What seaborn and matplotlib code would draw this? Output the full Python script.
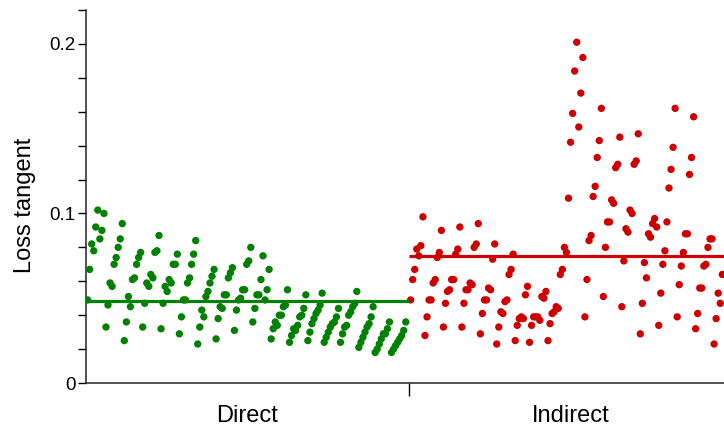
import numpy as np
import pandas as pd
import matplotlib
matplotlib.use("Agg")
import matplotlib.pyplot as plt
import seaborn as sns

categories = ["Direct", "Indirect"]

direct_values = [
    0.049, 0.067, 0.082, 0.078, 0.092, 0.102, 0.085, 0.090, 0.100, 0.033, 0.046,
    0.059, 0.057, 0.070, 0.074, 0.080, 0.085, 0.094,
    0.025, 0.036, 0.051, 0.045, 0.061, 0.062, 0.070, 0.074, 0.077,
    0.033, 0.047, 0.059, 0.057, 0.064, 0.062, 0.077, 0.078, 0.087,
    0.032, 0.047, 0.057, 0.054, 0.061, 0.059, 0.070, 0.070, 0.076,
    0.029, 0.039, 0.049, 0.049, 0.059, 0.062, 0.070, 0.076, 0.084,
    0.023, 0.033, 0.043,
    0.039, 0.051, 0.054, 0.059, 0.063, 0.067,
    0.026, 0.038, 0.045, 0.044, 0.052, 0.052, 0.062, 0.065, 0.068,
    0.031, 0.043, 0.049, 0.050, 0.055, 0.055, 0.070, 0.072, 0.080,
    0.036, 0.044, 0.052, 0.052, 0.061, 0.075, 0.049, 0.055, 0.067,
    0.026, 0.032, 0.036, 0.034, 0.040, 0.040, 0.045, 0.046, 0.055,
    0.024, 0.028, 0.032, 0.031, 0.034, 0.039, 0.040, 0.044, 0.052,
    0.025, 0.030,
    0.035, 0.038, 0.041, 0.043, 0.046, 0.053,
    0.024, 0.027, 0.030, 0.033, 0.035, 0.036, 0.039, 0.044,
    0.024, 0.029, 0.033, 0.034, 0.040, 0.042, 0.045, 0.047, 0.054,
    0.021, 0.024, 0.027, 0.030, 0.033, 0.035, 0.039, 0.045,
    0.018, 0.020, 0.023, 0.026, 0.029, 0.029, 0.032, 0.036,
    0.018, 0.020, 0.022, 0.024, 0.026, 0.028, 0.031, 0.036,
]

indirect_values = [
    0.049, 0.061, 0.067, 0.079, 0.075, 0.081, 0.098,
    0.028, 0.039, 0.049, 0.049, 0.059, 0.061, 0.074, 0.077, 0.090,
    0.033, 0.047, 0.054, 0.055, 0.061, 0.061, 0.076, 0.079, 0.092,
    0.033, 0.047, 0.055, 0.055, 0.059, 0.058, 0.080, 0.082, 0.094,
    0.029, 0.041, 0.049, 0.049, 0.056, 0.055, 0.073, 0.082,
    0.023, 0.033, 0.042, 0.041, 0.048, 0.049, 0.064, 0.067, 0.076,
    0.025, 0.034, 0.038, 0.039, 0.038, 0.052, 0.057,
    0.024, 0.034, 0.039, 0.039, 0.039, 0.037, 0.051, 0.050, 0.054,
    0.025, 0.035, 0.041, 0.042, 0.045, 0.044, 0.064, 0.067, 0.080, 0.077,
    0.109, 0.142, 0.159, 0.184, 0.201, 0.151, 0.171, 0.192,
    0.039, 0.061, 0.084, 0.087, 0.110, 0.116, 0.133, 0.143, 0.162,
    0.051, 0.080, 0.095, 0.095, 0.108, 0.106, 0.127, 0.129, 0.145,
    0.045, 0.072, 0.091, 0.089, 0.102, 0.100, 0.129, 0.131, 0.147,
    0.029, 0.047, 0.071, 0.062, 0.088, 0.086, 0.094, 0.097, 0.092,
    0.034, 0.053, 0.070, 0.078, 0.095, 0.115, 0.126, 0.139, 0.162,
    0.039, 0.058, 0.069, 0.077, 0.088, 0.088, 0.123, 0.133, 0.157,
    0.032, 0.041, 0.056, 0.056, 0.069, 0.070, 0.080, 0.085, 0.085,
    0.023, 0.038, 0.053, 0.047, 0.064,
]

colors = ["#008000", "#CC0000"]
# fraction of each category's width covered by its points (layout)
spans = [0.985, 0.965]

sns.set_style("ticks")
plt.rcParams["font.family"] = ["Liberation Sans", "DejaVu Sans"]
plt.rcParams["text.color"] = "black"
plt.rcParams["axes.labelcolor"] = "black"
plt.rcParams["xtick.color"] = "black"
plt.rcParams["ytick.color"] = "black"

rows = []
for ci, (cat, vals) in enumerate(zip(categories, [direct_values, indirect_values])):
    n = len(vals)
    for i, v in enumerate(vals):
        rows.append({"group": cat,
                     "pos": ci - 0.5 + 0.005 + spans[ci] * i / (n - 1),
                     "value": v})
df = pd.DataFrame(rows)

fig = plt.figure(figsize=(7.24, 4.26), dpi=100)
ax = fig.add_axes([86 / 724, 43 / 426, 646 / 724, 373 / 426])

sns.scatterplot(data=df, x="pos", y="value", hue="group", hue_order=categories,
                palette=colors, s=28, linewidth=0, legend=False, ax=ax,
                zorder=3, clip_on=True)

means = df.groupby("group")["value"].mean()
for ci, cat in enumerate(categories):
    ax.hlines(means[cat], ci - 0.5, ci + 0.5, colors=colors[ci], lw=2.3, zorder=4)

ax.set_xlim(-0.5, 1.5)
ax.set_ylim(0, 0.2194)

ax.set_xticks([0, 1])
ax.set_xticklabels(categories, fontsize=17, color="black")
ax.set_xticks([0.5], minor=True)
ax.tick_params(axis="x", which="major", length=0, pad=16)
ax.tick_params(axis="x", which="minor", length=9, width=1, color="black")

ax.set_yticks([0, 0.1, 0.2])
ax.set_yticklabels(["0", "0.1", "0.2"], fontsize=13.5, color="black")
ax.set_yticks(np.arange(0, 0.2201, 0.02), minor=True)
ax.tick_params(axis="y", which="both", length=6, width=1, pad=1.5, color="black")

ax.set_xlabel("")
ax.set_ylabel("Loss tangent", fontsize=17, color="black")
ax.yaxis.set_label_coords(-0.078, 0.477)

for side in ["right", "top"]:
    ax.spines[side].set_visible(False)
for side in ["left", "bottom"]:
    ax.spines[side].set_color("#222222")
    ax.spines[side].set_linewidth(1.1)

fig.savefig("out.png", dpi=100)
